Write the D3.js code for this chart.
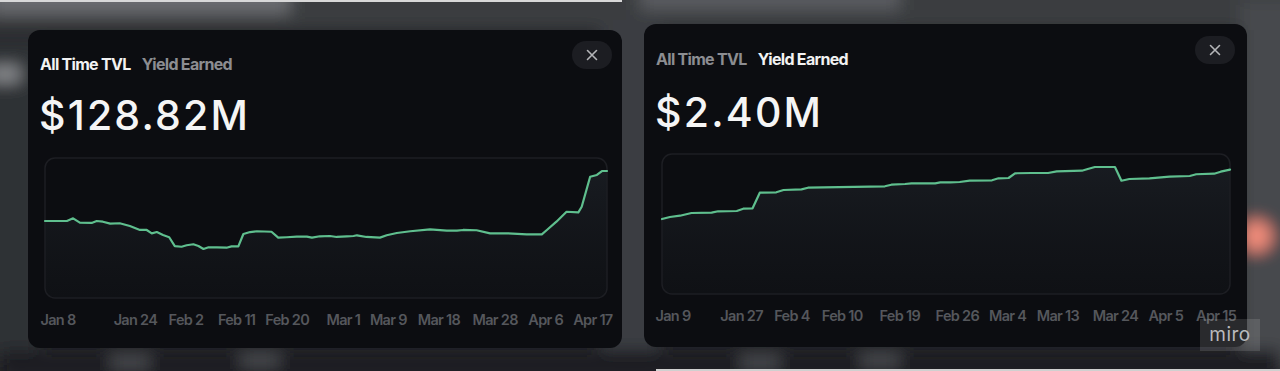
<!DOCTYPE html>
<html>
<head>
<meta charset="utf-8">
<script src="https://cdn.jsdelivr.net/npm/d3@7"></script>
<style>
  html, body { margin: 0; padding: 0; background: #232428; overflow: hidden; }
  svg { display: block; font-family: Inter, "Noto Sans", sans-serif; }
</style>
</head>
<body>
<svg id="chart" width="1280" height="371"></svg>
<script>
// ---- All Time TVL ($M), x = days since Jan 8
const tvlTickLabels = ['Jan 8', 'Jan 24', 'Feb 2', 'Feb 11', 'Feb 20', 'Mar 1', 'Mar 9', 'Mar 18', 'Mar 28', 'Apr 6', 'Apr 17'];
const tvlTickIdx = [0, 16, 25, 34, 43, 53, 61, 70, 80, 89, 100];
const tvlDay = [0, 3.9, 5.0, 6.2, 8.3, 9.2, 10.3, 11.6, 13.3, 15.1,
  16.9, 18.1, 19.0, 19.9, 21.0, 22.1, 23.1, 24.3, 25.2, 26.4,
  27.3, 28.2, 29.1, 30.6, 32.3, 33.2, 34.4, 35.3, 36.5, 37.7,
  40.3, 41.5, 43.0, 44.8, 46.6, 47.5, 48.9, 50.7, 51.9, 53.7,
  54.9, 55.5, 57.2, 59.6, 60.8, 62.6, 65.0, 68.5, 71.5, 73.3,
  74.4, 76.8, 79.2, 82.2, 85.7, 88.4, 89.3, 91.0, 92.8, 94.9,
  95.5, 97.0, 98.2, 99.1, 100];
const tvlValue = [78.1, 78.1, 80.8, 76.4, 76.1, 78.1, 77.4, 75.4, 75.8, 73.0,
  69.0, 69.0, 65.6, 66.9, 63.9, 61.6, 52.7, 52.0, 53.5, 54.5,
  52.7, 49.7, 51.4, 51.4, 51.0, 52.4, 52.4, 64.9, 66.9, 67.7,
  67.2, 61.2, 61.6, 62.2, 62.2, 61.2, 62.6, 62.9, 61.9, 62.6,
  62.9, 63.6, 61.9, 61.2, 63.6, 65.9, 67.7, 69.7, 68.3, 68.3,
  69.0, 68.7, 65.6, 65.6, 64.6, 64.6, 69.0, 77.4, 87.5, 86.9,
  92.6, 123.0, 124.8, 128.8, 128.8];

// ---- Yield Earned ($M), x = sample index (chart spaces points evenly)
const yieldTickLabels = ['Jan 9', 'Jan 27', 'Feb 4', 'Feb 10', 'Feb 19', 'Feb 26', 'Mar 4', 'Mar 13', 'Mar 24', 'Apr 5', 'Apr 15'];
const yieldTickIdx = [0, 11, 18, 25, 33, 41, 48, 55, 63, 70, 77];
const yieldIdx = [0, 1.1, 2.5, 4.1, 6.9, 7.8, 10.4, 11.3, 12.6, 13.6,
  15.9, 16.9, 19.4, 20.3, 31.0, 31.9, 33.8, 34.7, 38.0, 38.7,
  40.1, 41.4, 42.8, 45.9, 46.8, 48.2, 49.1, 51.4, 53.7, 54.9,
  58.4, 59.1, 60.2, 63.0, 63.9, 65.0, 67.8, 70.6, 73.4, 74.3,
  76.8, 77.7, 79];
const yieldValue = [1.446, 1.485, 1.510, 1.562, 1.568, 1.595, 1.601, 1.645, 1.653, 1.954,
  1.961, 2.006, 2.019, 2.050, 2.077, 2.108, 2.121, 2.135, 2.135, 2.154,
  2.154, 2.160, 2.185, 2.193, 2.231, 2.237, 2.328, 2.334, 2.334, 2.366,
  2.378, 2.405, 2.449, 2.449, 2.185, 2.218, 2.231, 2.262, 2.276, 2.309,
  2.320, 2.359, 2.400];

const tabs = ['All Time TVL', 'Yield Earned'];

const panels = [
  {
    id: 'tvl', active: 0, total: '$128.82M',
    card: {x: 28, y: 30, w: 594, h: 318},
    textX: 40, tabY: 70, bigY: 130, close: [592, 55],
    plot: {x0: 45, x1: 607, y0: 158, y1: 298},
    axisY: 325, labelMin: 40, labelMax: 612,
    xDomain: [0, 100], yDomain: [0, 142],
    xs: tvlDay, ys: tvlValue, ticks: tvlTickIdx, tickLabels: tvlTickLabels
  },
  {
    id: 'yield', active: 1, total: '$2.40M',
    card: {x: 644, y: 24, w: 603, h: 323},
    textX: 656, tabY: 65, bigY: 127, close: [1215, 50],
    plot: {x0: 662, x1: 1230, y0: 154, y1: 294},
    axisY: 321, labelMin: 655, labelMax: 1237,
    xDomain: [0, 79], yDomain: [0, 2.7],
    xs: yieldIdx, ys: yieldValue, ticks: yieldTickIdx, tickLabels: yieldTickLabels
  }
];

const svg = d3.select('#chart');
const defs = svg.append('defs');
defs.append('filter').attr('id', 'blur').attr('x', '-50%').attr('y', '-50%').attr('width', '200%').attr('height', '200%')
  .append('feGaussianBlur').attr('stdDeviation', 8);
const grad = defs.append('linearGradient').attr('id', 'areaFill').attr('x1', 0).attr('x2', 0).attr('y1', 0).attr('y2', 1);
grad.append('stop').attr('offset', '0%').attr('stop-color', '#1c2026').attr('stop-opacity', 0.75);
grad.append('stop').attr('offset', '100%').attr('stop-color', '#15181c').attr('stop-opacity', 0.35);

// <editor-fold desc="blurred backdrop">
const bg = svg.append('g').attr('class', 'backdrop');
bg.append('rect').attr('width', 1280).attr('height', 371).attr('fill', '#242529');
const blobs = bg.append('g').attr('filter', 'url(#blur)');
blobs.append('rect').attr('x', -20).attr('y', -30).attr('width', 1320).attr('height', 60).attr('fill', '#3a3c41');
blobs.append('rect').attr('x', -10).attr('y', -20).attr('width', 300).attr('height', 34).attr('fill', '#6a6c70');
blobs.append('rect').attr('x', 640).attr('y', -20).attr('width', 260).attr('height', 30).attr('fill', '#5a5c60');
blobs.append('rect').attr('x', 600).attr('y', 20).attr('width', 60).attr('height', 340).attr('fill', '#3b3d42');
blobs.append('rect').attr('x', 1240).attr('y', 0).attr('width', 70).attr('height', 371).attr('fill', '#46484d');
blobs.append('rect').attr('x', -20).attr('y', 40).attr('width', 60).attr('height', 320).attr('fill', '#2e3034');
blobs.append('rect').attr('x', -10).attr('y', 66).attr('width', 30).attr('height', 16).attr('fill', '#8a8c90');
blobs.append('circle').attr('cx', 1256).attr('cy', 236).attr('r', 16).attr('fill', '#f28c7a');
blobs.append('rect').attr('x', 0).attr('y', 350).attr('width', 1280).attr('height', 30).attr('fill', '#1c1d20');
blobs.append('rect').attr('x', 110).attr('y', 355).attr('width', 40).attr('height', 14).attr('fill', '#4a4c50');
blobs.append('rect').attr('x', 240).attr('y', 353).attr('width', 40).attr('height', 14).attr('fill', '#4a4c50');
blobs.append('rect').attr('x', 740).attr('y', 355).attr('width', 40).attr('height', 14).attr('fill', '#4a4c50');
blobs.append('rect').attr('x', 860).attr('y', 353).attr('width', 40).attr('height', 14).attr('fill', '#4a4c50');
bg.append('rect').attr('x', 0).attr('y', 0).attr('width', 622).attr('height', 2).attr('fill', '#d8d8d8');
bg.append('rect').attr('x', 656).attr('y', 369).attr('width', 624).attr('height', 2).attr('fill', '#d0d0d0');
// </editor-fold>

panels.forEach(drawPanel);

// miro watermark
const wm = svg.append('g').attr('class', 'watermark');
wm.append('rect').attr('x', 1200).attr('y', 319).attr('width', 60).attr('height', 32)
  .attr('fill', '#ffffff').attr('fill-opacity', 0.12);
wm.append('text').attr('x', 1230).attr('y', 341).attr('text-anchor', 'middle')
  .attr('fill', '#b9babd').attr('font-size', 19).attr('letter-spacing', 0.5).text('miro');

function drawPanel(p) {
  const g = svg.append('g').attr('class', 'panel ' + p.id);
  const c = p.card;
  g.append('rect').attr('x', c.x).attr('y', c.y).attr('width', c.w).attr('height', c.h)
    .attr('rx', 12).attr('fill', '#0c0d11');

  // tabs
  let tx = p.textX;
  tabs.forEach((t, i) => {
    const el = g.append('text').attr('x', tx).attr('y', p.tabY)
      .attr('font-size', 16).attr('font-weight', 700).attr('letter-spacing', -0.7)
      .attr('fill', i === p.active ? '#f2f2f2' : '#8c8d91').text(t);
    tx += el.node().getComputedTextLength() + 11;
  });

  g.append('text').attr('x', p.textX - 1).attr('y', p.bigY)
    .attr('font-size', 41).attr('font-weight', 500).attr('letter-spacing', 2.2)
    .attr('fill', '#f5f5f5').text(p.total);

  // close button
  g.append('rect').attr('x', p.close[0] - 20).attr('y', p.close[1] - 14).attr('width', 40).attr('height', 28)
    .attr('rx', 14).attr('fill', '#1c1d22');
  const cr = 4.5;
  g.append('path')
    .attr('d', `M${p.close[0] - cr},${p.close[1] - cr}L${p.close[0] + cr},${p.close[1] + cr}M${p.close[0] + cr},${p.close[1] - cr}L${p.close[0] - cr},${p.close[1] + cr}`)
    .attr('stroke', '#b4b5b8').attr('stroke-width', 1.6).attr('stroke-linecap', 'round');

  // chart
  const pl = p.plot;
  const x = d3.scaleLinear().domain(p.xDomain).range([pl.x0, pl.x1]);
  const y = d3.scaleLinear().domain(p.yDomain).range([pl.y1, pl.y0]);
  const pts = p.xs.map((d, i) => [d, p.ys[i]]);

  const clipId = 'clip-' + p.id;
  defs.append('clipPath').attr('id', clipId).append('rect')
    .attr('x', pl.x0).attr('y', pl.y0).attr('width', pl.x1 - pl.x0).attr('height', pl.y1 - pl.y0).attr('rx', 10);

  const area = d3.area().x(d => x(d[0])).y0(pl.y1).y1(d => y(d[1]));
  const line = d3.line().x(d => x(d[0])).y(d => y(d[1]));

  g.append('path').datum(pts).attr('clip-path', `url(#${clipId})`)
    .attr('d', area).attr('fill', 'url(#areaFill)');
  g.append('rect').attr('x', pl.x0).attr('y', pl.y0).attr('width', pl.x1 - pl.x0).attr('height', pl.y1 - pl.y0)
    .attr('rx', 10).attr('fill', 'none').attr('stroke', '#1d1e23').attr('stroke-width', 1.5);
  g.append('path').datum(pts)
    .attr('d', line).attr('fill', 'none').attr('stroke', '#5fbf8e')
    .attr('stroke-width', 2.2).attr('stroke-linejoin', 'round').attr('stroke-linecap', 'round');

  // x axis, labels kept inside the card padding
  const axis = g.append('g').attr('class', 'axis axis--x')
    .attr('transform', `translate(0, ${p.axisY})`)
    .call(d3.axisBottom(x).tickValues(p.ticks).tickSize(0).tickPadding(0)
      .tickFormat((d, i) => p.tickLabels[i]));
  axis.select('.domain').remove();
  axis.selectAll('text')
    .attr('dy', 0).attr('y', 0)
    .attr('fill', '#55575c').attr('font-size', 14.5).attr('font-weight', 600)
    .attr('letter-spacing', -0.7).attr('font-family', 'Inter, "Noto Sans", sans-serif')
    .each(function (d) {
      const w = this.getComputedTextLength();
      const cx = x(d);
      let shift = 0;
      if (cx - w / 2 < p.labelMin) shift = p.labelMin - (cx - w / 2);
      if (cx + w / 2 > p.labelMax) shift = p.labelMax - (cx + w / 2);
      d3.select(this).attr('x', shift);
    });
}
</script>
</body>
</html>
